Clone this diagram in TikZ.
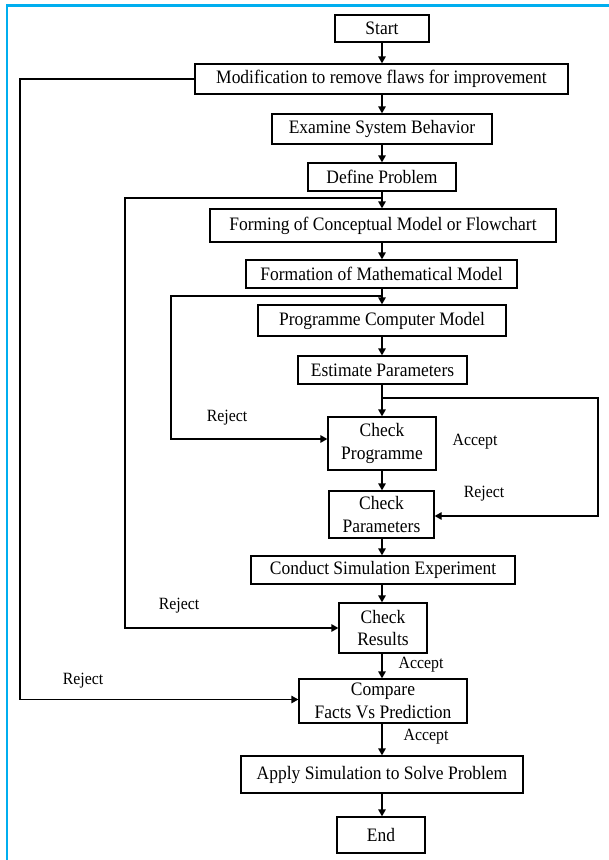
\documentclass[tikz,border=0pt]{standalone}
\usepackage{fontspec}
\setmainfont{Liberation Serif}[FakeStretch=0.92]
\usetikzlibrary{arrows.meta}
\definecolor{frameblue}{RGB}{0,174,239}
\tikzset{
  box/.style={draw, line width=1.3pt, inner sep=0pt, align=center,
    font=\fontsize{19}{22.5}\selectfont},
  lbl/.style={inner sep=0pt, font=\fontsize{17.2}{20}\selectfont},
  arr/.style={line width=1.3pt, -{Triangle[length=7pt,width=7.5pt]}},
  ln/.style={line width=1.3pt},
}
\begin{document}
\begin{tikzpicture}[x=1pt,y=-1pt]
\useasboundingbox (0,0) rectangle (609,860);
\fill[white] (0,0) rectangle (609,860);
\draw[frameblue, line width=2.6pt] (7,860) -- (7,5.6) -- (609,5.6);

\node[box, minimum width=94pt,  minimum height=27pt] (start) at (382,28.5) {Start};
\node[box, minimum width=373pt, minimum height=30pt] (mod)   at (381.5,79) {Modification to remove flaws for improvement};
\node[box, minimum width=220pt, minimum height=30pt] (exam)  at (382,129) {Examine System Behavior};
\node[box, minimum width=148pt, minimum height=28pt] (def)   at (382,177) {Define Problem};
\node[box, minimum width=346pt, minimum height=33pt] (form)  at (383,225.5) {Forming of Conceptual Model or Flowchart};
\node[box, minimum width=271pt, minimum height=28pt] (math)  at (381.5,274) {Formation of Mathematical Model};
\node[box, minimum width=248pt, minimum height=31pt] (prog)  at (382,320.5) {Programme Computer Model};
\node[box, minimum width=169pt, minimum height=28pt] (est)   at (382.5,370) {Estimate Parameters};
\node[box, minimum width=108pt, minimum height=53pt] (chkp)  at (382,443.5) {Check\\Programme};
\node[box, minimum width=105pt, minimum height=47pt] (chkpar) at (381.5,514.5) {Check\\Parameters};
\node[box, minimum width=264pt, minimum height=28pt] (cond)  at (383,570) {Conduct Simulation Experiment};
\node[box, minimum width=88pt,  minimum height=50pt] (chkr)  at (383,628) {Check\\Results};
\node[box, minimum width=168pt, minimum height=44pt] (comp)  at (383,701) {Compare\\Facts Vs Prediction};
\node[box, minimum width=282pt, minimum height=37pt] (apply) at (382,774.5) {Apply Simulation to Solve Problem};
\node[box, minimum width=88pt,  minimum height=36pt] (end)   at (381,835) {End};

% main spine
\foreach \a/\b in {start/mod, mod/exam, exam/def, def/form, form/math, math/prog,
  prog/est, est/chkp, chkp/chkpar, chkpar/cond, cond/chkr, chkr/comp, comp/apply, apply/end}
  \draw[arr] (\a.south -| 382,0) -- (\b.north -| 382,0);

% junctions and corners
\coordinate (j1) at (382,198);
\coordinate (c1) at (125,198);
\coordinate (j2) at (382,296);
\coordinate (c2) at (171,296);
\coordinate (j3) at (382,398);
\coordinate (c3) at (598,398);
\coordinate (c0) at (20,79);

\draw[arr] (mod.west) -- (c0) |- ([yshift=1.5pt]comp.west);
\draw[arr] (j1) -- (c1) |- (chkr.west);
\draw[arr] (j2) -- (c2) |- ([yshift=4.5pt]chkp.west);
\draw[arr] (j3) -- (c3) |- ([yshift=-1.5pt]chkpar.east);

% labels
\node[lbl] (r1) at (227,418) {Reject};
\node[lbl] (a1) at (475,442) {Accept};
\node[lbl] (r2) at (484,494) {Reject};
\node[lbl] (r3) at (179,606) {Reject};
\node[lbl] (a2) at (421,665) {Accept};
\node[lbl] (r4) at (83,681) {Reject};
\node[lbl] (a3) at (426,737) {Accept};
\end{tikzpicture}
\end{document}
